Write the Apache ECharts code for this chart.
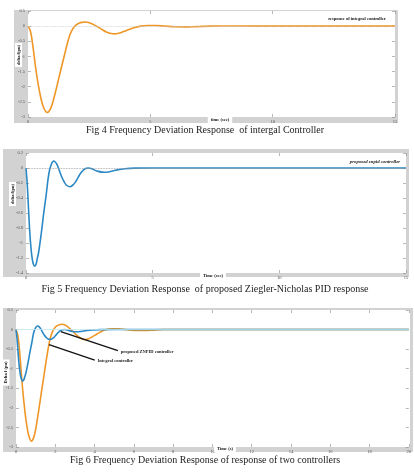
<!DOCTYPE html>
<html><head><meta charset="utf-8">
<script src="https://cdn.jsdelivr.net/npm/echarts@6/dist/echarts.min.js"></script>
<style>html,body{margin:0;padding:0;background:#fff}#c{width:414px;height:473px}</style>
</head><body><div id="c"></div>
<script>
// ---- data ----
var captions = [
  'Fig 4 Frequency Deviation Response  of intergal Controller',
  'Fig 5 Frequency Deviation Response  of proposed Ziegler-Nicholas PID response',
  'Fig 6 Frequency Deviation Response of response of two controllers'
];
var yTicks1 = [0.5, 0, -0.5, -1, -1.5, -2, -2.5, -3];
var yTicks2 = [0.2, 0, -0.2, -0.4, -0.6, -0.8, -1, -1.2, -1.4];
var yTicks3 = [0.5, 0, -0.5, -1, -1.5, -2, -2.5, -3];
var xTicks12 = [0, 5, 10, 15];
var xTicks3 = [0, 2, 4, 6, 8, 10, 12, 14, 16, 18, 20];
var integralT = [0,0.1,0.2,0.3,0.4,0.5,0.6,0.7,0.78,0.9,1.0,1.1,1.2,1.3,1.4,1.5,1.6,1.7,1.8,1.9,2.0,2.1,2.2,2.35,2.5,2.65,2.8,3.0,3.2,3.4,3.55,3.7,3.9,4.1,4.3,4.6,4.9,5.2,5.6,6.0,6.4,6.9,7.5,8.5,10,12,15,17,20];
var integralV = [0,-0.17,-0.66,-1.3,-1.84,-2.28,-2.6,-2.79,-2.85,-2.76,-2.55,-2.25,-1.92,-1.58,-1.25,-0.92,-0.6,-0.32,-0.13,-0.01,0.06,0.1,0.125,0.135,0.115,0.065,0.0,-0.1,-0.19,-0.245,-0.255,-0.235,-0.18,-0.12,-0.06,0.0,0.02,0.02,0.0,-0.02,-0.025,-0.015,0,0.003,0,0,0,0,0];
var znpidT = [0,0.05,0.1,0.15,0.2,0.25,0.3,0.35,0.4,0.45,0.5,0.6,0.7,0.8,0.9,1.0,1.1,1.2,1.28,1.4,1.5,1.6,1.74,1.9,2.0,2.1,2.2,2.33,2.46,2.6,2.8,3.08,3.3,3.6,3.9,4.3,5,7,10,15,20];
var znpidV = [0,-0.22,-0.55,-0.86,-1.08,-1.22,-1.29,-1.31,-1.28,-1.2,-1.12,-0.88,-0.6,-0.35,-0.08,0.05,0.093,0.06,0,-0.11,-0.18,-0.23,-0.25,-0.21,-0.16,-0.1,-0.05,-0.01,0.0,-0.01,-0.04,-0.057,-0.05,-0.025,-0.01,-0.002,0,0,0,0,0];
var annotations = [
  {text: 'proposed ZNPID controller', from: [2.28, -0.05], to: [5.19, -0.535]},
  {text: 'Integral controller', from: [1.68, -0.385], to: [4.01, -0.78]}
];

// ---- build ----
function pairs(t, v, tmax) {
  var out = [];
  for (var i = 0; i < t.length; i++) if (t[i] <= tmax) out.push([t[i], v[i]]);
  return out;
}
var ORANGE = '#EE9626', BLUE = '#2B88C4', GRAY = '#D2D2D2';
var grids = [
  {left: 28, top: 11, width: 367, height: 106},
  {left: 26, top: 153, width: 380, height: 120},
  {left: 16, top: 310, width: 394, height: 137}
];
var frames = [
  {x: 14, y: 10, w: 384, h: 113},
  {x: 3, y: 149, w: 406, h: 128},
  {x: 3, y: 308, w: 410, h: 144}
];
function xAx(gi, ticks, pos, show) {
  return {type: 'value', gridIndex: gi, min: ticks[0], max: ticks[ticks.length - 1], interval: ticks[1] - ticks[0], position: pos,
    axisLine: {show: false, onZero: false}, splitLine: {show: false},
    axisTick: {show: true, inside: true, length: 3, lineStyle: {color: '#888', width: 0.6}},
    axisLabel: {show: show, margin: 2, fontSize: 4.5, color: '#555', fontFamily: 'Liberation Serif'}};
}
function yAx(gi, ticks, pos, show) {
  var mn = ticks[ticks.length - 1], mx = ticks[0];
  return {type: 'value', gridIndex: gi, min: mn, max: mx, interval: ticks[0] - ticks[1], position: pos,
    axisLine: {show: false, onZero: false}, splitLine: {show: false},
    axisTick: {show: true, inside: true, length: 3, lineStyle: {color: '#888', width: 0.6}},
    axisLabel: {show: show, margin: 3, fontSize: 4.5, color: '#555', fontFamily: 'Liberation Serif',
      formatter: function (v) { return (Math.round(v * 10) / 10).toString(); }}};
}
var xAxes = [xAx(0, xTicks12, 'bottom', true), xAx(1, xTicks12, 'bottom', true), xAx(2, xTicks3, 'bottom', true),
  xAx(0, xTicks12, 'top', false), xAx(1, xTicks12, 'top', false), xAx(2, xTicks3, 'top', false)];
var yAxes = [yAx(0, yTicks1, 'left', true), yAx(1, yTicks2, 'left', true), yAx(2, yTicks3, 'left', true),
  yAx(0, yTicks1, 'right', false), yAx(1, yTicks2, 'right', false), yAx(2, yTicks3, 'right', false)];

function zeroLine(color, type) {
  return {silent: true, symbol: 'none', label: {show: false},
    lineStyle: {color: color, type: type, width: 0.8}, data: [{yAxis: 0}]};
}
var series = [
  {type: 'line', xAxisIndex: 0, yAxisIndex: 0, data: pairs(integralT, integralV, 15), showSymbol: false, smooth: 0.4,
    lineStyle: {color: ORANGE, width: 1.6}, markLine: zeroLine('#cccccc', 'dotted')},
  {type: 'line', xAxisIndex: 1, yAxisIndex: 1, data: pairs(znpidT, znpidV, 15), showSymbol: false, smooth: 0.4,
    lineStyle: {color: BLUE, width: 1.6}, markLine: zeroLine('#999999', 'dotted'), z: 3},
  {type: 'line', xAxisIndex: 2, yAxisIndex: 2, data: pairs(integralT, integralV, 20), showSymbol: false, smooth: 0.4,
    lineStyle: {color: ORANGE, width: 1.6}, markLine: zeroLine('#BFE9F0', 'solid'), z: 3},
  {type: 'line', xAxisIndex: 2, yAxisIndex: 2, data: pairs(znpidT, znpidV, 20), showSymbol: false, smooth: 0.4,
    lineStyle: {color: BLUE, width: 1.6}, z: 4,
    markLine: {silent: true, symbol: 'none', lineStyle: {color: '#111', width: 1.3, type: 'solid'},
      label: {show: true, position: 'end', distance: 3, fontSize: 4.5, color: '#222', fontFamily: 'Liberation Serif', fontWeight: 'bold',
        formatter: function (p) { return p.name; }},
      data: annotations.map(function (a) {
        return [{name: a.text, coord: a.from}, {coord: a.to}];
      })}}
];

var graphic = [];
frames.forEach(function (f) {
  graphic.push({type: 'rect', shape: {x: f.x, y: f.y, width: f.w, height: f.h}, style: {fill: GRAY}, z: -10, silent: true});
});
grids.forEach(function (g) {
  graphic.push({type: 'rect', shape: {x: g.left, y: g.top, width: g.width, height: g.height}, style: {fill: '#fff'}, z: -9, silent: true});
});
var capY = [130, 289, 460];
captions.forEach(function (c, i) {
  graphic.push({type: 'text', x: 205, y: capY[i], style: {text: c, fill: '#222', font: '10px "Liberation Serif"', textAlign: 'center', textVerticalAlign: 'middle'}});
});
// axis names (boxed)
var yNames = [{t: 'delta f(pu)', x: 18.5, y: 55}, {t: 'delta f(pu)', x: 12.5, y: 194}, {t: 'Delta f (pu)', x: 6, y: 372.5}];
yNames.forEach(function (n) {
  graphic.push({type: 'text', x: n.x, y: n.y, rotation: Math.PI / 2,
    style: {text: n.t, fill: '#111', font: 'bold 4.5px "Liberation Serif"', textAlign: 'center', textVerticalAlign: 'middle',
      backgroundColor: '#fff', padding: [1, 2]}, z: 10});
});
var xNames = [{t: 'time (sec)', x: 220, y: 120}, {t: 'Time (sec)', x: 213, y: 275.5}, {t: 'Time (s)', x: 225, y: 449}];
xNames.forEach(function (n) {
  graphic.push({type: 'text', x: n.x, y: n.y,
    style: {text: n.t, fill: '#111', font: 'bold 4.5px "Liberation Serif"', textAlign: 'center', textVerticalAlign: 'middle',
      backgroundColor: '#fff', padding: [0.5, 3]}, z: 10});
});
// legend-like labels
graphic.push({type: 'text', x: 357, y: 19, style: {text: 'response of integral controller', fill: '#111',
  font: 'bold 4.5px "Liberation Serif"', textAlign: 'center', textVerticalAlign: 'middle'}});
graphic.push({type: 'text', x: 375, y: 162, style: {text: 'proposed znpid controller', fill: '#111',
  font: 'italic bold 4.8px "Liberation Serif"', textAlign: 'center', textVerticalAlign: 'middle'}});

var chart = echarts.init(document.getElementById('c'), null, {renderer: 'canvas'});
chart.setOption({
  animation: false,
  backgroundColor: '#fff',
  grid: grids.map(function (g) { return {left: g.left, top: g.top, width: g.width, height: g.height, containLabel: false}; }),
  xAxis: xAxes,
  yAxis: yAxes,
  series: series,
  graphic: graphic
});
</script></body></html>
